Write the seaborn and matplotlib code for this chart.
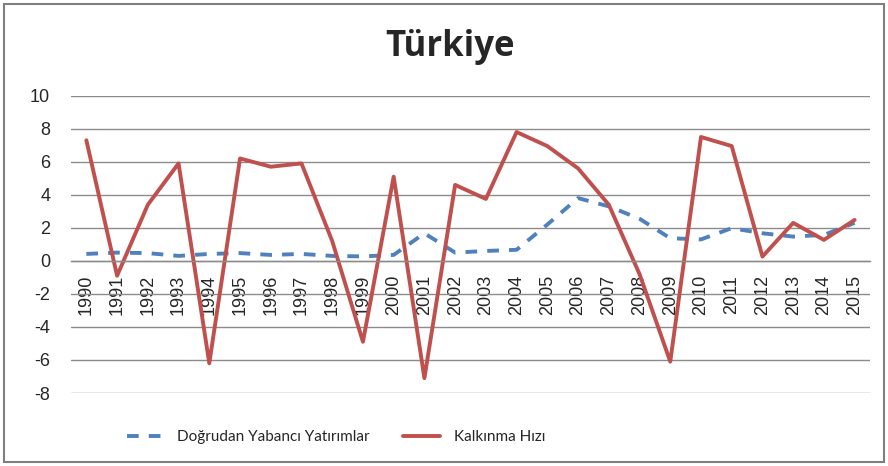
import matplotlib
matplotlib.use("Agg")
import matplotlib.pyplot as plt
import seaborn as sns
import pandas as pd
from matplotlib.lines import Line2D
from matplotlib.patches import Rectangle

years = list(range(1990, 2016))
# Doğrudan Yabancı Yatırımlar (% GSYH)
fdi = [0.42, 0.50, 0.47, 0.30, 0.42, 0.47, 0.36, 0.42, 0.30, 0.27, 0.36, 1.67,
       0.50, 0.60, 0.67, 2.20, 3.80, 3.30, 2.55, 1.37, 1.30, 1.98, 1.67, 1.47,
       1.57, 2.30]
# Kalkınma Hızı (%)
growth = [7.3, -0.9, 3.4, 5.9, -6.2, 6.2, 5.7, 5.9, 1.2, -4.9, 5.1, -7.1,
          4.6, 3.75, 7.8, 6.95, 5.6, 3.4, -0.8, -6.1, 7.5, 6.95, 0.26, 2.3,
          1.27, 2.48]
series_names = ["Doğrudan Yabancı Yatırımlar", "Kalkınma Hızı"]
colors = ["#4F81BD", "#C0504D"]

df = pd.DataFrame({
    "Yıl": years * 2,
    "Değer": fdi + growth,
    "Seri": [series_names[0]] * len(years) + [series_names[1]] * len(years),
})

sns.set_style("white")
plt.rcParams["font.family"] = ["Liberation Sans", "DejaVu Sans"]
plt.rcParams["axes.unicode_minus"] = False

fig = plt.figure(figsize=(8.88, 4.66), dpi=100)
ax = fig.add_axes([71 / 888, 1 - 393 / 466, (870 - 71) / 888, (393 - 95.7) / 466])

sns.lineplot(data=df, x="Yıl", y="Değer", hue="Seri", style="Seri",
             palette=dict(zip(series_names, colors)),
             dashes={series_names[0]: (3, 2.6), series_names[1]: ""},
             linewidth=2.8, ax=ax, legend=False, sort=False)
ax.lines[0].set_dash_capstyle("butt")

# zero line acts as the category axis (set before tick styling, it resets ticks)
for s in ["top", "right", "left"]:
    ax.spines[s].set_visible(False)
ax.spines["bottom"].set_position(("data", 0))
ax.spines["bottom"].set_color("#8C8C8C")
ax.spines["bottom"].set_linewidth(1)

ax.set_xlim(years[0] - 0.5, years[-1] + 0.5)
ax.set_ylim(-8, 10)
ax.set_yticks(range(-8, 11, 2))
ax.set_xticks(years)
ax.set_xticklabels([str(y) for y in years], rotation=90, fontsize=13)
ax.tick_params(axis="y", labelsize=13, length=0, pad=15)
ax.tick_params(axis="x", length=0, pad=10)
ax.set_xlabel("")
ax.set_ylabel("")
ax.yaxis.grid(True, color="#8C8C8C", linewidth=1)
ax.set_axisbelow(True)

fig.text(450 / 888, 1 - 47 / 466, "Türkiye", ha="center", va="center",
         fontsize=25, fontweight="bold", family=["Open Sans", "DejaVu Sans"])

handles = [Line2D([], [], color=colors[0], linewidth=2.8, linestyle=(0, (3, 2.6))),
           Line2D([], [], color=colors[1], linewidth=2.8)]
fig.legend(handles, series_names, loc="center", bbox_to_anchor=(336 / 888, 1 - 437 / 466),
           ncol=2, frameon=False, handlelength=2.4, handletextpad=0.9,
           columnspacing=2.2, prop={"family": ["Lato", "DejaVu Sans"], "size": 11})

fig.patches.append(Rectangle((4 / 888, 4 / 466), 880 / 888, 458 / 466,
                             transform=fig.transFigure, fill=False,
                             edgecolor="#7F7F7F", linewidth=1.5))

fig.savefig("out.png", dpi=100)
